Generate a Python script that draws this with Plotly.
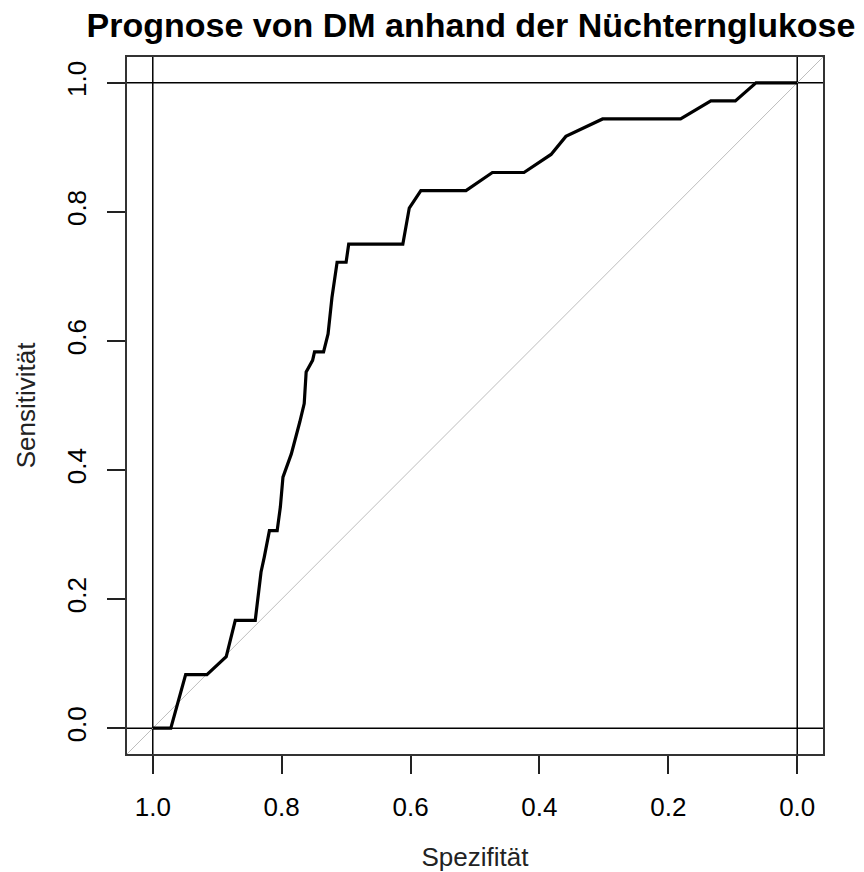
import plotly.graph_objects as go

title_text = "Prognose von DM anhand der Nüchternglukose"
x_title = "Spezifität"
y_title = "Sensitivität"

# ROC curve vertices (specificity, sensitivity)
specificity = [1.000, 0.972, 0.949, 0.916, 0.886, 0.872, 0.841, 0.836, 0.832, 0.827,
               0.819, 0.807, 0.802, 0.798, 0.785, 0.772, 0.765, 0.762, 0.752, 0.749,
               0.735, 0.728, 0.722, 0.714, 0.700, 0.696, 0.612, 0.602, 0.584, 0.514,
               0.473, 0.424, 0.382, 0.359, 0.302, 0.181, 0.134, 0.096, 0.064, 0.000]
sensitivity = [0.000, 0.000, 0.083, 0.083, 0.111, 0.167, 0.167, 0.208, 0.242, 0.265,
               0.306, 0.306, 0.343, 0.389, 0.425, 0.474, 0.503, 0.552, 0.570, 0.583,
               0.583, 0.611, 0.667, 0.722, 0.722, 0.750, 0.750, 0.806, 0.833, 0.833,
               0.861, 0.861, 0.889, 0.917, 0.944, 0.944, 0.972, 0.972, 1.000, 1.000]

tick_vals = [0.0, 0.2, 0.4, 0.6, 0.8, 1.0]
tick_text = ["0.0", "0.2", "0.4", "0.6", "0.8", "1.0"]
ref_lines = [0.0, 1.0]

pad = 0.04
x_range = [1 + pad, -pad]
y_range = [-pad, 1 + pad]

FONT = "Liberation Sans, Arial, sans-serif"

fig = go.Figure()

# chance diagonal (sens = 1 - spec) across the whole plot region
diag_x = list(x_range)
diag_y = [1 - v for v in diag_x]
fig.add_trace(go.Scatter(x=diag_x, y=diag_y, mode="lines",
                         line=dict(color="#bdbdbd", width=1), hoverinfo="skip",
                         showlegend=False))

for v in ref_lines:
    fig.add_hline(y=v, line=dict(color="black", width=1.5), layer="below")
    fig.add_vline(x=v, line=dict(color="black", width=1.5), layer="below")

fig.add_trace(go.Scatter(x=specificity, y=sensitivity, mode="lines",
                         line=dict(color="black", width=3.2),
                         showlegend=False))

axis_common = dict(
    tickvals=tick_vals, ticktext=tick_text,
    showgrid=False, zeroline=False, automargin=False,
    showline=True, mirror=True, linecolor="#333333", linewidth=1.6,
    ticks="outside", ticklen=18, tickwidth=1.5, tickcolor="#222222",
    tickfont=dict(family=FONT, size=26, color="black"),
    ticklabelstandoff=11,
)

fig.update_layout(
    template="none",
    width=864, height=872,
    margin=dict(l=127, r=41, t=57, b=118, autoexpand=False),
    paper_bgcolor="white", plot_bgcolor="white",
    title=dict(text="<b>" + title_text + "</b>",
               font=dict(family=FONT, size=34, color="black"),
               x=471 / 864, xanchor="center", xref="container",
               y=1 - 25 / 872, yanchor="middle", yref="container"),
    xaxis=dict(range=x_range, autorange=False,
               title=dict(text=x_title, font=dict(family=FONT, size=26, color="#222222"),
                          standoff=33),
               **axis_common),
    yaxis=dict(range=y_range, autorange=False, tickangle=-90,
               title=dict(text=y_title, font=dict(family=FONT, size=26, color="#222222"),
                          standoff=19),
               **axis_common),
)

fig.write_html("out.html")
